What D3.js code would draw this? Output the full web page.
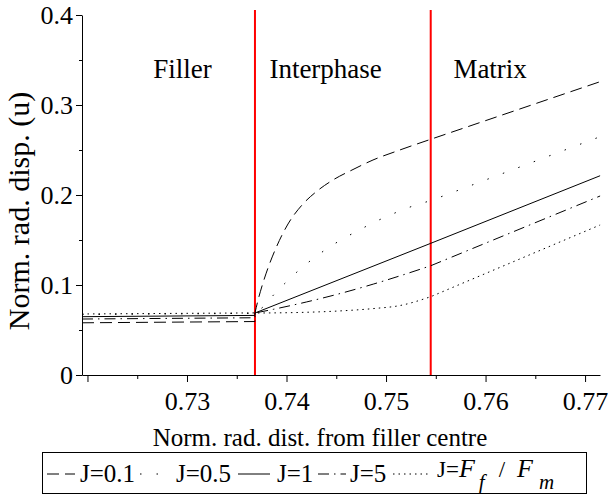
<!DOCTYPE html>
<html>
<head>
<meta charset="utf-8">
<script src="https://cdn.jsdelivr.net/npm/d3@7"></script>
<style>
  html, body { margin: 0; padding: 0; background: #fff; }
  svg { display: block; }
</style>
</head>
<body>
<svg id="chart" width="610" height="497"></svg>
<script>
// ---------------- data ----------------
const xDomain = [0.71945, 0.7715];
const yDomain = [0, 0.4];
const xMajorTicks = [0.72, 0.73, 0.74, 0.75, 0.76, 0.77];
const xTickLabels = ["", "0.73", "0.74", "0.75", "0.76", "0.77"];
const xMinorTicks = [0.725, 0.735, 0.745, 0.755, 0.765];
const yMajorTicks = [0, 0.1, 0.2, 0.3, 0.4];
const yTickLabels = ["0", "0.1", "0.2", "0.3", "0.4"];
const yMinorTicks = [0.05, 0.15, 0.25, 0.35];
const boundaries = [0.73683, 0.75449];
const regionNames = ["Filler", "Interphase", "Matrix"];
const regionCentres = [0.72955, 0.74393, 0.76046];
const seriesNames = ["J=0.1", "J=0.5", "J=1", "J=5", "J=Ff/Fm"];

// filler part (left edge, interface) for each series
const fillerR = [0.71945, 0.73683];
const fillerJ01 = [0.0580, 0.0594];
const fillerJ05 = [0.0672, 0.0685];
const fillerJ1  = [0.0648, 0.0662];
const fillerJ5  = [0.0622, 0.0636];
const fillerJF  = [0.0678, 0.0690];

// interphase part (interface .. second boundary)
const rJ01 = [0.73683, 0.73714, 0.73754, 0.73814, 0.73894, 0.74015, 0.74156, 0.74307, 0.74467, 0.74668, 0.74869, 0.75111, 0.75449];
const uJ01 = [0.0689, 0.0833, 0.0989, 0.1189, 0.1411, 0.1678, 0.1889, 0.2044, 0.2167, 0.2283, 0.2389, 0.2489, 0.2619];
const rJ05 = [0.73683, 0.73767, 0.73884, 0.74012, 0.74146, 0.74286, 0.74437, 0.74595, 0.74749, 0.74913, 0.75080, 0.75251, 0.75449];
const uJ05 = [0.0689, 0.0759, 0.0907, 0.1048, 0.1185, 0.1308, 0.1426, 0.1530, 0.1622, 0.1714, 0.1796, 0.1870, 0.1937];
const rJ1 = [0.73683, 0.75449];
const uJ1 = [0.0689, 0.1463];
const rJ5 = [0.73683, 0.73868, 0.74203, 0.74538, 0.74872, 0.75141, 0.75449];
const uJ5 = [0.0689, 0.0730, 0.0812, 0.0905, 0.1010, 0.1102, 0.1214];
const rJF = [0.73683, 0.73868, 0.74203, 0.74538, 0.74872, 0.75141, 0.75449];
const uJF = [0.0689, 0.0690, 0.0697, 0.0712, 0.0738, 0.0772, 0.0870];

// matrix part (second boundary .. right edge) — linear
const matrixR = [0.75449, 0.77151];
const matrixJ01 = [0.2619, 0.3259];
const matrixJ05 = [0.1937, 0.2648];
const matrixJ1  = [0.1463, 0.2214];
const matrixJ5  = [0.1214, 0.1989];
const matrixJF  = [0.0870, 0.1667];

const series = [
  { name: seriesNames[0], filler: fillerJ01, r: rJ01, u: uJ01, matrix: matrixJ01, dash: "12,6" },
  { name: seriesNames[1], filler: fillerJ05, r: rJ05, u: uJ05, matrix: matrixJ05, dash: "1.5,15" },
  { name: seriesNames[2], filler: fillerJ1,  r: rJ1,  u: uJ1,  matrix: matrixJ1,  dash: null },
  { name: seriesNames[3], filler: fillerJ5,  r: rJ5,  u: uJ5,  matrix: matrixJ5,  dash: "11,5,1.5,5" },
  { name: seriesNames[4], filler: fillerJF,  r: rJF,  u: uJF,  matrix: matrixJF,  dash: "1.5,4" }
];

const FONT = '"Liberation Serif", "Tinos", "Times New Roman", serif';

// ---------------- chart ----------------
const svg = d3.select("#chart");
const x = d3.scaleLinear().domain(xDomain).range([82, 600]);
const y = d3.scaleLinear().domain(yDomain).range([375, 15]);

// axes
const xAxis = svg.append("g").attr("transform", `translate(0,${y(0)})`)
  .call(d3.axisBottom(x).tickValues(xMajorTicks).tickSizeInner(7).tickSizeOuter(0)
    .tickFormat((d, i) => xTickLabels[i]));
xAxis.selectAll("text").attr("font-size", 26).attr("fill", "#000").attr("dy", null).attr("y", 35);
svg.append("g").attr("transform", `translate(0,${y(0)})`)
  .call(d3.axisBottom(x).tickValues(xMinorTicks).tickSizeInner(4).tickSizeOuter(0).tickFormat(""))
  .select(".domain").remove();

const yAxis = svg.append("g").attr("transform", `translate(${x(xDomain[0])},0)`)
  .call(d3.axisLeft(y).tickValues(yMajorTicks).tickSizeInner(6).tickSizeOuter(0)
    .tickFormat((d, i) => yTickLabels[i]));
yAxis.selectAll("text").attr("font-size", 26).attr("fill", "#000").attr("x", -9).attr("dy", "0.33em");
svg.append("g").attr("transform", `translate(${x(xDomain[0])},0)`)
  .call(d3.axisLeft(y).tickValues(yMinorTicks).tickSizeInner(3).tickSizeOuter(0).tickFormat(""))
  .select(".domain").remove();
svg.selectAll(".domain, .tick line").attr("stroke", "#000").attr("stroke-width", 1);

// red boundaries
svg.append("g").selectAll("line").data(boundaries).join("line")
  .attr("x1", d => x(d)).attr("x2", d => x(d))
  .attr("y1", y(0.4055)).attr("y2", y(0))
  .attr("stroke", "#ff0000").attr("stroke-width", 2);

// region labels
svg.append("g").selectAll("text").data(regionNames).join("text")
  .attr("x", (d, i) => x(regionCentres[i])).attr("y", 78)
  .attr("text-anchor", "middle").attr("font-size", 27).text(d => d);

// curves: filler (linear) + interphase (smooth) + matrix (linear), as one continuous path
const lineLin = d3.line().x(d => x(d[0])).y(d => y(d[1]));
const lineSmooth = d3.line().x(d => x(d[0])).y(d => y(d[1])).curve(d3.curveMonotoneX);
const g = svg.append("g").attr("fill", "none").attr("stroke", "#000").attr("stroke-width", 1);
series.forEach(s => {
  const fillerPts = [[fillerR[0], s.filler[0]], [fillerR[1], s.filler[1]], [s.r[0], s.u[0]]];
  const interPts = s.r.map((r, i) => [r, s.u[i]]);
  const matrixPts = [[matrixR[0], s.matrix[0]], [matrixR[1], s.matrix[1]]];
  const d = lineLin(fillerPts) + lineSmooth(interPts).replace(/^M/, "L") + lineLin(matrixPts).replace(/^M/, "L");
  g.append("path").attr("d", d).attr("stroke-dasharray", s.dash);
});

// axis titles
svg.append("text").attr("x", 320).attr("y", 446).attr("text-anchor", "middle")
  .attr("font-size", 25).text("Norm. rad. dist. from filler centre");
svg.append("text").attr("transform", "translate(29,211) rotate(-90)").attr("text-anchor", "middle")
  .attr("font-size", 30).text("Norm. rad. disp. (u)");

// legend
const lg = svg.append("g");
lg.append("rect").attr("x", 42.5).attr("y", 452.5).attr("width", 544).attr("height", 41)
  .attr("fill", "none").attr("stroke", "#000").attr("stroke-width", 1);
const legendSampleX = [47, 140, 238, 318, 393];
const legendSampleW = [28, 28, 32, 28, 38];
const legendTextX = [80, 176, 277, 350, 437];
const ly = 474;
series.forEach((s, i) => {
  lg.append("line").attr("x1", legendSampleX[i]).attr("x2", legendSampleX[i] + legendSampleW[i])
    .attr("y1", ly).attr("y2", ly).attr("stroke", "#000").attr("stroke-width", 1)
    .attr("stroke-dasharray", s.dash);
  if (i < 4) {
    lg.append("text").attr("x", legendTextX[i]).attr("y", 482).attr("font-size", 25).text(s.name);
  } else {
    const t = lg.append("text").attr("x", legendTextX[i]).attr("y", 477).attr("font-size", 23);
    t.append("tspan").text("J=");
    t.append("tspan").attr("font-style", "italic").attr("font-size", 26).text("F");
    t.append("tspan").attr("font-style", "italic").attr("font-size", 21).attr("dy", 12).attr("dx", 4).text("f");
    t.append("tspan").attr("dy", -12).attr("dx", 14).text("/");
    t.append("tspan").attr("font-style", "italic").attr("font-size", 26).attr("dx", 12).text("F");
    t.append("tspan").attr("font-style", "italic").attr("font-size", 21).attr("dy", 12).attr("dx", 6).text("m");
  }
});

// apply the serif font everywhere (inline style wins over axis defaults)
svg.selectAll("g").attr("font-family", null);
svg.selectAll("text").style("font-family", FONT);
</script>
</body>
</html>
